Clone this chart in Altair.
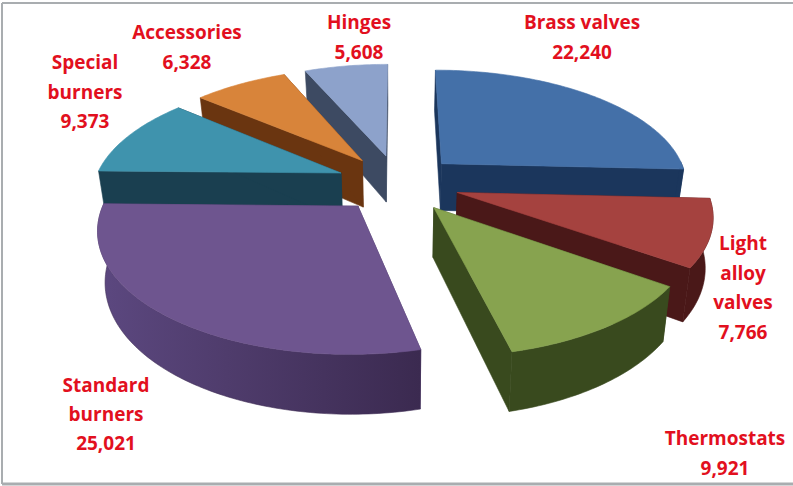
import math
import altair as alt
import pandas as pd

# Sales by product family, clockwise from twelve o'clock
categories = ["Brass valves", "Light alloy valves", "Thermostats", "Standard burners",
              "Special burners", "Accessories", "Hinges"]
values = [22240, 7766, 9921, 25021, 9373, 6328, 5608]
label_lines = [["Brass valves"], ["Light", "alloy", "valves"], ["Thermostats"],
               ["Standard", "burners"], ["Special", "burners"], ["Accessories"], ["Hinges"]]

top_colors = ["#4470A8", "#A5423F", "#87A34F", "#6E558F", "#3F93AD", "#D8843A", "#8DA2CB"]
wall_colors = ["#1B365C", "#4A1818", "#394A1E", "#4A3868", "#1A3F50", "#6A3510", "#3D4A62"]

W, H = 793, 486
CX, CY = 398, 183      # pie centre on the page
RX, RY = 247, 115      # disc radii before perspective
K = 0.166              # perspective strength
EXPLODE = 0.25         # slice offset, in disc radii
DEPTH = 48             # wall height
BOTTOM_SHRINK = 0.975  # lower face recedes slightly

# label anchors: centre x, first line y, line spacing
label_anchor = {
    "Brass valves": (582, 23, 30), "Light alloy valves": (743, 244, 29.5),
    "Thermostats": (725, 439, 30), "Standard burners": (106, 386, 29),
    "Special burners": (85, 63, 29.5), "Accessories": (187, 33, 29.5),
    "Hinges": (359, 23, 30),
}


def project(wx, wy, lower=False):
    w = 1 - K * wy
    sx = RX * wx / w
    sy = RY * wy / w
    if lower:
        return CX + BOTTOM_SHRINK * sx, CY + sy + DEPTH / w
    return CX + sx, CY + sy


def slice_faces(start, end):
    mid = math.radians((start + end) / 2)
    ox, oy = EXPLODE * math.sin(mid), -EXPLODE * math.cos(mid)
    n = max(4, int(end - start))
    degrees = [start + (end - start) * i / n for i in range(n + 1)]
    rim = [(ox + math.sin(math.radians(d)), oy - math.cos(math.radians(d))) for d in degrees]
    # only the front half of the rim shows a wall
    front = [(ox + math.sin(math.radians(d)), oy - math.cos(math.radians(d)))
             for d in degrees if 88 <= d <= 272]
    apex = (ox, oy)
    up = lambda p: project(*p)
    dn = lambda p: project(*p, lower=True)
    side_a = [up(apex), up(rim[0]), dn(rim[0]), dn(apex)]
    side_b = [up(apex), up(rim[-1]), dn(rim[-1]), dn(apex)]
    outer = [up(p) for p in front] + [dn(p) for p in reversed(front)]
    top = [up(apex)] + [up(p) for p in rim]
    return side_a, side_b, outer, top


def face_layer(points, fill):
    df = pd.DataFrame({"x": [p[0] for p in points], "y": [p[1] for p in points],
                       "i": range(len(points))})
    return alt.Chart(df).mark_line(
        fill=fill, stroke=fill if isinstance(fill, str) else "#3F2D55", strokeWidth=0.6,
        interpolate="linear-closed",
    ).encode(
        x=alt.X("x:Q", scale=x_scale, axis=None),
        y=alt.Y("y:Q", scale=y_scale, axis=None),
        order=alt.Order("i:Q"),
    )


x_scale = alt.Scale(domain=[0, W], range=[0, W], nice=False, zero=False)
y_scale = alt.Scale(domain=[0, H], range=[0, H], nice=False, zero=False)

total = sum(values)
spans = {}
running = 0.0
for name, v in zip(categories, values):
    spans[name] = (running, running + 360 * v / total)
    running += 360 * v / total

purple_wall = alt.Gradient(
    gradient="linear", x1=0, x2=1, y1=0, y2=0,
    stops=[alt.GradientStop(color="#5C4880", offset=0),
           alt.GradientStop(color="#4F3C6C", offset=0.4),
           alt.GradientStop(color="#3B2A50", offset=1)],
)

layers = []
# painter's order: rear slices first, the front ones over them
paint_order = ["Hinges", "Accessories", "Special burners", "Standard burners",
               "Brass valves", "Light alloy valves", "Thermostats"]
for name in paint_order:
    idx = categories.index(name)
    a, b, outer, top = slice_faces(*spans[name])
    wall = wall_colors[idx]
    layers.append(face_layer(a, wall))
    layers.append(face_layer(b, wall))
    if len(outer) > 2:
        layers.append(face_layer(outer, purple_wall if name == "Standard burners" else wall))
    layers.append(face_layer(top, top_colors[idx]))

# slice labels, one row per text line
rows = []
for name, v, lines in zip(categories, values, label_lines):
    ax, ay, step = label_anchor[name]
    for j, line in enumerate(lines + [f"{v:,}"]):
        rows.append({"x": ax, "y": ay + j * step, "t": line})
labels = alt.Chart(pd.DataFrame(rows)).mark_text(
    font="Open Sans", fontWeight="bold", fontSize=19, color="#E2101E", align="center", baseline="middle",
).encode(
    x=alt.X("x:Q", scale=x_scale, axis=None),
    y=alt.Y("y:Q", scale=y_scale, axis=None),
    text="t:N",
)

# thin grey frame round the picture
frame_color = "#A9ADB0"
frame = [
    alt.Chart(pd.DataFrame({"k": [0]})).mark_rule(color=frame_color, strokeWidth=sw).encode(
        x=alt.value(x0), x2=alt.value(x1), y=alt.value(y0), y2=alt.value(y1))
    for x0, x1, y0, y1, sw in [(2, 2, 3, 484, 2), (2, 793, 3, 3, 2), (2, 793, 484, 484, 3)]
]

chart = alt.layer(*layers, labels, *frame).properties(
    width=W, height=H, padding=0, autosize=alt.AutoSizeParams(type="none"), background="white",
).configure_view(stroke=None)

chart.save("out.html", embed_options={"renderer": "svg", "actions": False})
